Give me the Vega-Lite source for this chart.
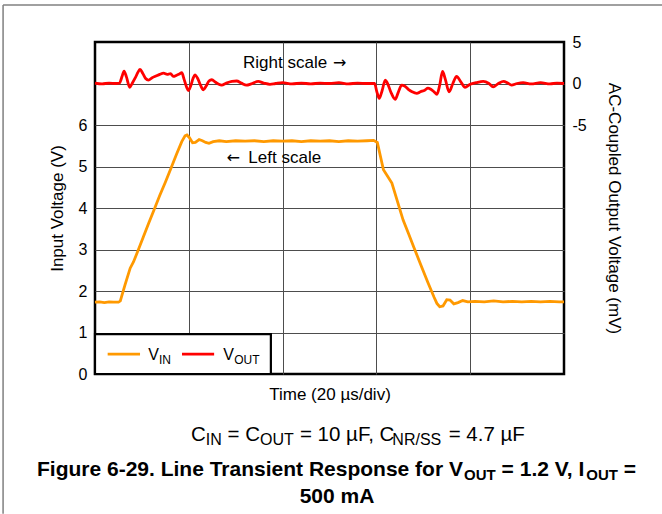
{
  "$schema": "https://vega.github.io/schema/vega-lite/v6.json",
  "width": 469,
  "height": 332,
  "autosize": {"type": "none"},
  "padding": {"left": 95, "top": 42, "right": 98, "bottom": 140},
  "background": "#ffffff",
  "config": {
    "font": "Liberation Sans",
    "view": {"stroke": "#000000", "strokeWidth": 2.5},
    "text": {"font": "Liberation Sans", "color": "#000000", "baseline": "alphabetic", "align": "left"},
    "axis": {"labelFont": "Liberation Sans", "titleFont": "Liberation Sans", "labelColor": "#000000", "titleColor": "#000000", "titleFontWeight": "normal"}
  },
  "datasets": {
    "vin": [
      {"t": 0, "v": 1.73}, {"t": 1, "v": 1.74}, {"t": 2, "v": 1.72}, {"t": 3, "v": 1.74}, {"t": 4, "v": 1.73}, {"t": 5, "v": 1.73},
      {"t": 5.4, "v": 1.76}, {"t": 6.4, "v": 2.15}, {"t": 7.5, "v": 2.55}, {"t": 8.2, "v": 2.7}, {"t": 9.2, "v": 2.98},
      {"t": 10.3, "v": 3.3}, {"t": 11.4, "v": 3.62}, {"t": 12.6, "v": 3.96}, {"t": 13.8, "v": 4.3}, {"t": 15.0, "v": 4.62},
      {"t": 16.2, "v": 4.96}, {"t": 17.4, "v": 5.3}, {"t": 18.5, "v": 5.6}, {"t": 19.2, "v": 5.74}, {"t": 19.6, "v": 5.76},
      {"t": 20.1, "v": 5.7}, {"t": 20.8, "v": 5.57}, {"t": 21.4, "v": 5.58}, {"t": 22.2, "v": 5.65}, {"t": 22.9, "v": 5.62},
      {"t": 23.6, "v": 5.58}, {"t": 24.3, "v": 5.56}, {"t": 25.2, "v": 5.6}, {"t": 26.5, "v": 5.62}, {"t": 28, "v": 5.6},
      {"t": 30, "v": 5.62}, {"t": 32, "v": 5.61}, {"t": 34, "v": 5.62}, {"t": 36, "v": 5.6}, {"t": 38, "v": 5.62},
      {"t": 40, "v": 5.61}, {"t": 42, "v": 5.62}, {"t": 44, "v": 5.6}, {"t": 46, "v": 5.62}, {"t": 48, "v": 5.61},
      {"t": 50, "v": 5.62}, {"t": 52, "v": 5.6}, {"t": 54, "v": 5.62}, {"t": 56, "v": 5.61}, {"t": 58, "v": 5.62},
      {"t": 59.4, "v": 5.63}, {"t": 60.2, "v": 5.58}, {"t": 61.5, "v": 4.92}, {"t": 63.3, "v": 4.6}, {"t": 65.7, "v": 3.71},
      {"t": 66.8, "v": 3.4}, {"t": 68, "v": 3.05}, {"t": 69.5, "v": 2.62}, {"t": 71, "v": 2.2}, {"t": 72.3, "v": 1.85},
      {"t": 72.9, "v": 1.7}, {"t": 73.5, "v": 1.62}, {"t": 74.2, "v": 1.64}, {"t": 75.0, "v": 1.79}, {"t": 75.7, "v": 1.78},
      {"t": 76.5, "v": 1.69}, {"t": 77.4, "v": 1.72}, {"t": 78.4, "v": 1.77}, {"t": 79.5, "v": 1.74}, {"t": 81, "v": 1.75},
      {"t": 83, "v": 1.74}, {"t": 85, "v": 1.76}, {"t": 87, "v": 1.74}, {"t": 89, "v": 1.75}, {"t": 91, "v": 1.74},
      {"t": 93, "v": 1.75}, {"t": 95, "v": 1.74}, {"t": 97, "v": 1.75}, {"t": 99, "v": 1.74}, {"t": 100, "v": 1.74}
    ],
    "vout": [
      {"t": 0, "mv": 0.05}, {"t": 1.5, "mv": -0.05}, {"t": 3, "mv": 0.05}, {"t": 4.5, "mv": 0.0}, {"t": 5.2, "mv": 0.05},
      {"t": 5.8, "mv": 0.9}, {"t": 6.2, "mv": 1.5}, {"t": 6.7, "mv": 0.8}, {"t": 7.4, "mv": -0.45}, {"t": 8.0, "mv": 0.1},
      {"t": 8.6, "mv": 0.7}, {"t": 9.2, "mv": 1.4}, {"t": 9.6, "mv": 1.7}, {"t": 10.2, "mv": 1.2}, {"t": 10.8, "mv": 0.6},
      {"t": 11.4, "mv": 0.4}, {"t": 12.2, "mv": 0.7}, {"t": 13.0, "mv": 0.9}, {"t": 13.8, "mv": 1.1}, {"t": 14.6, "mv": 1.25},
      {"t": 15.4, "mv": 1.1}, {"t": 16.1, "mv": 1.2}, {"t": 16.7, "mv": 0.85}, {"t": 17.4, "mv": 1.0}, {"t": 18.0, "mv": 1.15},
      {"t": 18.5, "mv": 1.3}, {"t": 19.0, "mv": 0.5}, {"t": 19.5, "mv": -0.4}, {"t": 19.9, "mv": -0.85}, {"t": 20.4, "mv": -0.3},
      {"t": 20.9, "mv": 0.6}, {"t": 21.3, "mv": 1.05}, {"t": 21.9, "mv": 0.6}, {"t": 22.5, "mv": -0.2}, {"t": 23.1, "mv": -0.75},
      {"t": 23.7, "mv": -0.3}, {"t": 24.3, "mv": 0.3}, {"t": 24.9, "mv": 0.45}, {"t": 25.7, "mv": 0.15}, {"t": 26.4, "mv": -0.1},
      {"t": 27.0, "mv": -0.2}, {"t": 28.0, "mv": 0.05}, {"t": 29.2, "mv": 0.25}, {"t": 30.2, "mv": 0.3}, {"t": 31.2, "mv": 0.05},
      {"t": 32.3, "mv": -0.2}, {"t": 33.3, "mv": -0.05}, {"t": 34.8, "mv": 0.25}, {"t": 36.0, "mv": 0.05}, {"t": 37.3, "mv": -0.1},
      {"t": 38.5, "mv": 0.0}, {"t": 40, "mv": 0.1}, {"t": 42, "mv": -0.05}, {"t": 44, "mv": 0.05}, {"t": 46, "mv": -0.05},
      {"t": 48, "mv": 0.05}, {"t": 50, "mv": 0.0}, {"t": 52, "mv": 0.1}, {"t": 54, "mv": -0.05}, {"t": 56, "mv": 0.05},
      {"t": 58, "mv": 0.0}, {"t": 59.6, "mv": 0.0}, {"t": 60.1, "mv": -1.0}, {"t": 60.6, "mv": -1.8}, {"t": 61.2, "mv": -0.9},
      {"t": 61.9, "mv": 0.4}, {"t": 62.3, "mv": 0.1}, {"t": 63.2, "mv": -1.2}, {"t": 64.0, "mv": -1.9}, {"t": 64.7, "mv": -1.0},
      {"t": 65.4, "mv": -0.2}, {"t": 66.0, "mv": -0.3}, {"t": 66.8, "mv": -0.7}, {"t": 67.6, "mv": -1.0}, {"t": 68.6, "mv": -1.2},
      {"t": 69.4, "mv": -1.0}, {"t": 70.3, "mv": -0.8}, {"t": 71.0, "mv": -0.55}, {"t": 71.6, "mv": -0.7}, {"t": 72.3, "mv": -1.0},
      {"t": 72.9, "mv": -1.3}, {"t": 73.5, "mv": -0.2}, {"t": 74.1, "mv": 1.45}, {"t": 74.7, "mv": 0.5}, {"t": 75.5, "mv": -1.0},
      {"t": 76.3, "mv": 0.0}, {"t": 77.1, "mv": 0.85}, {"t": 78.0, "mv": 0.2}, {"t": 78.9, "mv": -0.45}, {"t": 80.0, "mv": -0.1},
      {"t": 81.3, "mv": 0.1}, {"t": 82.8, "mv": 0.25}, {"t": 84.0, "mv": 0.0}, {"t": 84.9, "mv": -0.4}, {"t": 86.0, "mv": 0.0},
      {"t": 87.1, "mv": 0.25}, {"t": 88.0, "mv": 0.05}, {"t": 88.8, "mv": -0.2}, {"t": 90.0, "mv": 0.0}, {"t": 91.3, "mv": 0.1},
      {"t": 93, "mv": -0.05}, {"t": 95, "mv": 0.1}, {"t": 97, "mv": -0.05}, {"t": 98.5, "mv": 0.05}, {"t": 100, "mv": 0.0}
    ]
  },
  "layer": [
    {
      "data": {"name": "vin"},
      "mark": {"type": "line", "color": "#FF9900", "strokeWidth": 2.8},
      "encoding": {
        "x": {"field": "t", "type": "quantitative", "scale": {"domain": [0, 100], "nice": false},
          "axis": {"values": [20, 40, 60, 80], "grid": true, "gridColor": "#4d4d4d", "gridWidth": 1, "labels": false, "ticks": false, "domain": false,
            "title": "Time (20 µs/div)", "titleFontSize": 17, "titlePadding": 12}},
        "y": {"field": "v", "type": "quantitative", "scale": {"domain": [0, 8], "nice": false},
          "axis": {"orient": "left", "values": [0, 1, 2, 3, 4, 5, 6, 7, 8], "labelExpr": "datum.value <= 6 ? datum.label : ''",
            "grid": true, "gridColor": "#4d4d4d", "gridWidth": 1,
            "gridOpacity": {"condition": {"test": "datum.value === 0 || datum.value === 8", "value": 0}, "value": 1},
            "ticks": false, "domain": false, "labelPadding": 8, "labelFontSize": 16,
            "title": "Input Voltage (V)", "titleFontSize": 17, "titlePadding": 12}}
      }
    },
    {
      "data": {"name": "vout"},
      "mark": {"type": "line", "color": "#FF0000", "strokeWidth": 2.8, "interpolate": "monotone"},
      "encoding": {
        "x": {"field": "t", "type": "quantitative", "scale": {"domain": [0, 100], "nice": false}, "axis": null},
        "y": {"field": "mv", "type": "quantitative", "scale": {"domain": [-35, 5], "nice": false},
          "axis": {"orient": "right", "values": [5, 0, -5], "labelExpr": "datum.value < 0 ? '-' + abs(datum.value) : datum.label",
            "grid": false, "ticks": false, "domain": false, "labelPadding": 8, "labelFontSize": 16,
            "title": "AC-Coupled Output Voltage (mV)", "titleFontSize": 17, "titlePadding": 18}}
      }
    },
    {
      "data": {"values": [{"x1": 0, "x2": 37.5, "y1": 0, "y2": 0.96}]},
      "mark": {"type": "rect", "fill": "#ffffff", "stroke": "#000000", "strokeWidth": 2.2},
      "encoding": {
        "x": {"field": "x1", "type": "quantitative", "scale": {"domain": [0, 100], "nice": false}, "axis": null},
        "x2": {"field": "x2"},
        "y": {"field": "y1", "type": "quantitative", "scale": {"domain": [0, 8], "nice": false}, "axis": null},
        "y2": {"field": "y2"}
      }
    },
    {
      "data": {"values": [{"x1": 2.7, "x2": 9.6, "y": 0.48, "s": "VIN"}, {"x1": 18.55, "x2": 25.4, "y": 0.48, "s": "VOUT"}]},
      "mark": {"type": "rule", "strokeWidth": 2.8},
      "encoding": {
        "x": {"field": "x1", "type": "quantitative", "scale": {"domain": [0, 100], "nice": false}, "axis": null},
        "x2": {"field": "x2"},
        "y": {"field": "y", "type": "quantitative", "scale": {"domain": [0, 8], "nice": false}, "axis": null},
        "color": {"field": "s", "type": "nominal", "scale": {"domain": ["VIN", "VOUT"], "range": ["#FF9900", "#FF0000"]}, "legend": null}
      }
    },
    {
      "data": {"values": [{"x1": -19.6, "x2": -19.6, "y1": 8.89, "y2": -3.37}, {"x1": -19.6, "x2": 121, "y1": 8.89, "y2": 8.89}]},
      "mark": {"type": "rule", "color": "#808080", "strokeWidth": 1.5},
      "encoding": {
        "x": {"field": "x1", "type": "quantitative", "scale": {"domain": [0, 100], "nice": false}, "axis": null},
        "x2": {"field": "x2"},
        "y": {"field": "y1", "type": "quantitative", "scale": {"domain": [0, 8], "nice": false}, "axis": null},
        "y2": {"field": "y2"}
      }
    },
    {
      "data": {"values": [{"t": 31.56, "v": 7.37, "label": "Right scale"}, {"t": 32.7, "v": 5.08, "label": "Left scale"}]},
      "mark": {"type": "text", "fontSize": 17, "align": "left", "baseline": "alphabetic"},
      "encoding": {
        "x": {"field": "t", "type": "quantitative", "scale": {"domain": [0, 100], "nice": false}, "axis": null},
        "y": {"field": "v", "type": "quantitative", "scale": {"domain": [0, 8], "nice": false}, "axis": null},
        "text": {"field": "label"}
      }
    },
    {
      "data": {"values": [{"t": 50.75, "v": 7.37, "label": "→"}, {"t": 28.06, "v": 5.08, "label": "←"}]},
      "mark": {"type": "text", "font": "DejaVu Sans", "fontSize": 16, "align": "left", "baseline": "alphabetic"},
      "encoding": {
        "x": {"field": "t", "type": "quantitative", "scale": {"domain": [0, 100], "nice": false}, "axis": null},
        "y": {"field": "v", "type": "quantitative", "scale": {"domain": [0, 8], "nice": false}, "axis": null},
        "text": {"field": "label"}
      }
    },
    {
      "data": {"values": [{"t": 11.36, "v": 0.337, "label": "V"}, {"t": 27.36, "v": 0.337, "label": "V"}]},
      "mark": {"type": "text", "fontSize": 16, "align": "left", "baseline": "alphabetic"},
      "encoding": {
        "x": {"field": "t", "type": "quantitative", "scale": {"domain": [0, 100], "nice": false}, "axis": null},
        "y": {"field": "v", "type": "quantitative", "scale": {"domain": [0, 8], "nice": false}, "axis": null},
        "text": {"field": "label"}
      }
    },
    {
      "data": {"values": [{"t": 13.65, "v": 0.25, "label": "IN"}, {"t": 29.68, "v": 0.25, "label": "OUT"}]},
      "mark": {"type": "text", "fontSize": 12, "align": "left", "baseline": "alphabetic"},
      "encoding": {
        "x": {"field": "t", "type": "quantitative", "scale": {"domain": [0, 100], "nice": false}, "axis": null},
        "y": {"field": "v", "type": "quantitative", "scale": {"domain": [0, 8], "nice": false}, "axis": null},
        "text": {"field": "label"}
      }
    },
    {
      "data": {"values": [{"t": 20.47, "v": -1.607, "label": "C"}, {"t": 28.25, "v": -1.607, "label": "= C"}, {"t": 43.7, "v": -1.607, "label": "= 10 µF, C"}, {"t": 75.4, "v": -1.607, "label": "= 4.7 µF"}]},
      "mark": {"type": "text", "fontSize": 20.5, "align": "left", "baseline": "alphabetic"},
      "encoding": {
        "x": {"field": "t", "type": "quantitative", "scale": {"domain": [0, 100], "nice": false}, "axis": null},
        "y": {"field": "v", "type": "quantitative", "scale": {"domain": [0, 8], "nice": false}, "axis": null},
        "text": {"field": "label"}
      }
    },
    {
      "data": {"values": [{"t": 23.62, "v": -1.716, "label": "IN"}, {"t": 35.18, "v": -1.716, "label": "OUT"}, {"t": 63.4, "v": -1.716, "label": "NR/SS"}]},
      "mark": {"type": "text", "fontSize": 16, "align": "left", "baseline": "alphabetic"},
      "encoding": {
        "x": {"field": "t", "type": "quantitative", "scale": {"domain": [0, 100], "nice": false}, "axis": null},
        "y": {"field": "v", "type": "quantitative", "scale": {"domain": [0, 8], "nice": false}, "axis": null},
        "text": {"field": "label"}
      }
    },
    {
      "data": {"values": [{"t": -12.37, "v": -2.458, "label": "Figure 6-29. Line Transient Response for V"}, {"t": 86.7, "v": -2.458, "label": "= 1.2 V, I"}, {"t": 112.75, "v": -2.458, "label": "="}]},
      "mark": {"type": "text", "fontSize": 21, "fontWeight": "bold", "align": "left", "baseline": "alphabetic"},
      "encoding": {
        "x": {"field": "t", "type": "quantitative", "scale": {"domain": [0, 100], "nice": false}, "axis": null},
        "y": {"field": "v", "type": "quantitative", "scale": {"domain": [0, 8], "nice": false}, "axis": null},
        "text": {"field": "label"}
      }
    },
    {
      "data": {"values": [{"t": 78.7, "v": -2.566, "label": "OUT"}, {"t": 104.75, "v": -2.566, "label": "OUT"}]},
      "mark": {"type": "text", "fontSize": 15, "fontWeight": "bold", "align": "left", "baseline": "alphabetic"},
      "encoding": {
        "x": {"field": "t", "type": "quantitative", "scale": {"domain": [0, 100], "nice": false}, "axis": null},
        "y": {"field": "v", "type": "quantitative", "scale": {"domain": [0, 8], "nice": false}, "axis": null},
        "text": {"field": "label"}
      }
    },
    {
      "data": {"values": [{"t": 51.6, "v": -3.1, "label": "500 mA"}]},
      "mark": {"type": "text", "fontSize": 21, "fontWeight": "bold", "align": "center", "baseline": "alphabetic"},
      "encoding": {
        "x": {"field": "t", "type": "quantitative", "scale": {"domain": [0, 100], "nice": false}, "axis": null},
        "y": {"field": "v", "type": "quantitative", "scale": {"domain": [0, 8], "nice": false}, "axis": null},
        "text": {"field": "label"}
      }
    }
  ],
  "resolve": {"scale": {"x": "independent", "y": "independent"}}
}
